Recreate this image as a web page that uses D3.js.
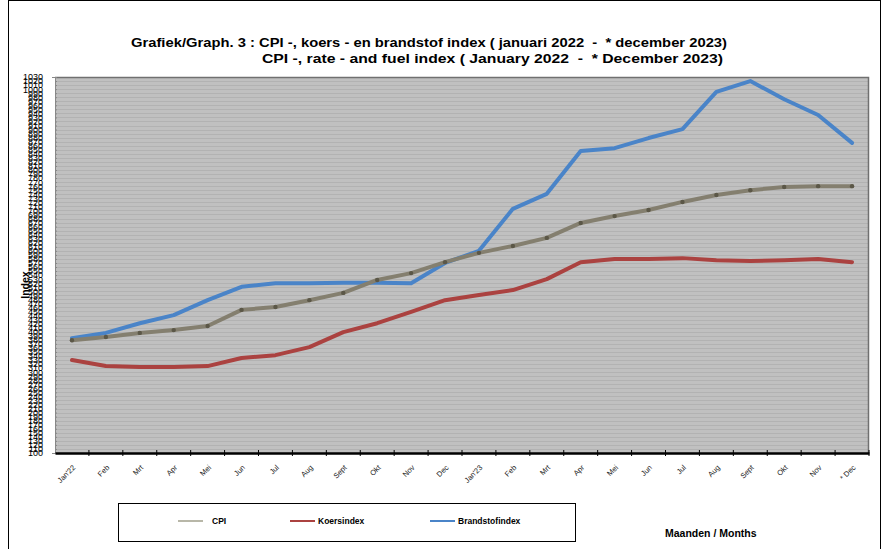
<!DOCTYPE html>
<html><head><meta charset="utf-8">
<script src="https://cdn.jsdelivr.net/npm/d3@7"></script>
<style>body{margin:0;background:#fff}svg{display:block;font-family:"Liberation Sans",Arial,sans-serif}</style>
</head><body><svg id="c" width="888" height="549"></svg>
<script>
const months = ["Jan'22","Feb","Mrt","Apr","Mei","Jun","Jul","Aug","Sept","Okt","Nov","Dec",
                "Jan'23","Feb","Mrt","Apr","Mei","Jun","Jul","Aug","Sept","Okt","Nov","* Dec"];
const cpi   = [379,387,397,404,414,454,461,478,496,528,545,572,595,612,632,669,686,701,721,738,750,758,760,760];
const koers = [330,315,313,313,315,335,342,362,399,421,449,478,491,503,530,572,580,580,582,577,575,577,580,572];
const brand = [384,397,421,441,478,511,520,520,521,521,520,570,600,704,741,847,854,879,901,993,1020,975,936,867];
const yTicks = d3.range(100, 1031, 10);
const seriesNames = ["CPI","Koersindex","Brandstofindex"];
const title1 = "Grafiek/Graph. 3 : CPI -, koers - en brandstof index ( januari 2022  -  * december 2023)";
const title2 = "CPI -, rate - and fuel index ( January 2022  -  * December 2023)";

const svg = d3.select("#c");
const L = 55, R = 869, T = 77, B = 453;
const idx = months.map((d,i)=>i);
const x = d3.scaleBand().domain(idx).range([L,R]);
const y = d3.scaleLinear().domain([100,1030]).range([B,T]);

// outer frame
svg.append("rect").attr("x",8.5).attr("y",0.5).attr("width",872).attr("height",560)
  .attr("fill","none").attr("stroke","#000").attr("stroke-width",1);

// plot bg
svg.append("rect").attr("x",L).attr("y",T).attr("width",R-L).attr("height",B-T).attr("fill","#c0c0c0");
svg.append("g").selectAll("line").data(yTicks.slice(1)).join("line")
  .attr("x1",L).attr("x2",R).attr("y1",d=>Math.round(y(d))+0.5).attr("y2",d=>Math.round(y(d))+0.5)
  .attr("stroke","#b2b2b2").attr("stroke-width",1);
svg.append("path").attr("d",`M${L},${T+0.5}H${R-0.5}V${B}`).attr("fill","none").attr("stroke","#707070").attr("stroke-width",1.5);

// y axis
const ya = svg.append("g").attr("transform",`translate(${L},0)`)
  .call(d3.axisLeft(y).tickValues(yTicks).tickSize(3).tickPadding(9).tickFormat(d3.format("d")));
ya.select(".domain").attr("stroke","#888");
ya.selectAll(".tick line").attr("stroke","#888").attr("x2",2);
ya.selectAll("text").attr("font-size",9).attr("fill","#000").attr("font-family","Liberation Sans, Arial");

// x axis
const xa = svg.append("g").attr("transform",`translate(0,${B})`)
  .call(d3.axisBottom(x).tickValues([]).tickSizeOuter(0));
xa.select(".domain").attr("stroke","#000").attr("stroke-width",2.5);
svg.append("g").selectAll("line").data(d3.range(1,25)).join("line")
  .attr("x1",d=>L+d*x.step()).attr("x2",d=>L+d*x.step()).attr("y1",B-3).attr("y2",B+3)
  .attr("stroke","#000").attr("stroke-width",1);
svg.append("g").selectAll("text").data(idx).join("text")
  .attr("transform",i=>`translate(${x(i)+x.bandwidth()/2+4},${B+15}) rotate(-45)`)
  .attr("text-anchor","end").attr("font-size",7.5).attr("fill","#222").text(i=>months[i]);

// lines
const line = d3.line().x((d,i)=>x(i)+x.bandwidth()/2).y(d=>y(d));
function drawLine(data,color){
  svg.append("path").datum(data).attr("d",line).attr("fill","none")
    .attr("stroke",color).attr("stroke-width",4).attr("stroke-linejoin","round").attr("stroke-linecap","round");
}
drawLine(koers,"#ab4240");
drawLine(brand,"#4a84c8");
drawLine(cpi,"#847f6f");
svg.append("g").selectAll("circle").data(cpi).join("circle")
  .attr("cx",(d,i)=>x(i)+x.bandwidth()/2).attr("cy",d=>y(d)).attr("r",2.2).attr("fill","#5b5747");

// titles
svg.append("text").attr("x",131).attr("y",47).attr("font-size",13.5).attr("font-weight","bold")
  .attr("xml:space","preserve").style("white-space","pre")
  .attr("textLength",596).attr("lengthAdjust","spacingAndGlyphs").text(title1);
svg.append("text").attr("x",262).attr("y",63).attr("font-size",13.5).attr("font-weight","bold")
  .attr("xml:space","preserve").style("white-space","pre")
  .attr("textLength",461).attr("lengthAdjust","spacingAndGlyphs").text(title2);

// y title
svg.append("text").attr("transform","translate(29,285) rotate(-90)").attr("text-anchor","middle")
  .attr("font-size",10.5).attr("font-weight","bold").text("Index");

// legend
svg.append("rect").attr("x",118.5).attr("y",503.5).attr("width",457).attr("height",38)
  .attr("fill","#fff").attr("stroke","#000").attr("stroke-width",1);
const legColors = ["#b8b7a8","#ab4240","#4a84c8"];
const legX = [178,290,430];
const lg = svg.append("g").selectAll("g").data(seriesNames).join("g")
  .attr("transform",(d,i)=>`translate(${legX[i]},521)`);
lg.append("line").attr("x1",0).attr("x2",25).attr("y1",0).attr("y2",0)
  .attr("stroke",(d,i)=>legColors[i]).attr("stroke-width",2);
lg.append("text").attr("x",(d,i)=>i===0?34:28).attr("y",3).attr("font-size",8.5).attr("font-weight","bold").text(d=>d);

svg.append("text").attr("x",665).attr("y",537).attr("font-size",10.5).attr("font-weight","bold").text("Maanden / Months");
</script></body></html>
